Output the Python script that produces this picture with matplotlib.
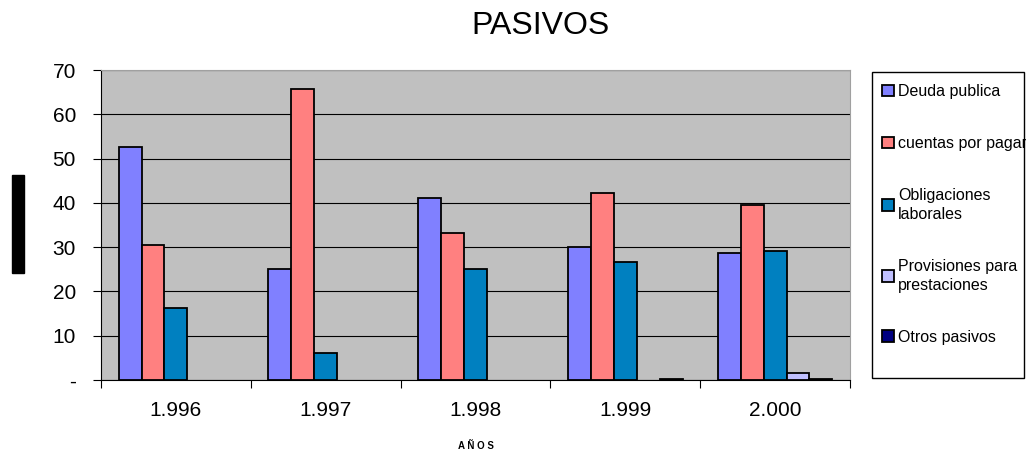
import numpy as np
import matplotlib.pyplot as plt
from matplotlib.patches import Rectangle

plt.rcParams['font.family'] = ['Liberation Sans', 'DejaVu Sans']

years = ['1.996', '1.997', '1.998', '1.999', '2.000']
series = ['Deuda publica', 'cuentas por pagar', 'Obligaciones\nlaborales',
          'Provisiones para\nprestaciones', 'Otros pasivos']
deuda = [52.7, 25.1, 41.0, 30.1, 28.7]
cuentas = [30.5, 65.7, 33.3, 42.3, 39.5]
obligaciones = [16.2, 6.2, 25.1, 26.6, 29.2]
provisiones = [0, 0, 0, 0, 1.6]
otros = [0, 0, 0, 0.3, 0.3]
colors = ['#8080FF', '#FF8080', '#0080C0', '#C0C0FF', '#000080']

fig = plt.figure(figsize=(10.26, 4.51), dpi=100)
ax = fig.add_axes([101/1026, 1-380/451, 749/1026, 310/451])
ax.set_facecolor('#C0C0C0')

x = np.arange(len(years))
w = 0.153
for i, (vals, lab) in enumerate(zip([deuda, cuentas, obligaciones, provisiones, otros], series)):
    v = np.array(vals, dtype=float)
    v[v == 0] = np.nan  # empty values are not drawn
    ax.bar(x + (i - 2) * w, v, w, color=colors[i], edgecolor='black', linewidth=1.3,
           label=lab, zorder=3)

ax.set_xlim(-0.5, 4.5)
ax.set_ylim(0, 70)
ax.set_yticks(range(0, 71, 10))
ax.set_yticklabels(['-'] + [str(v) for v in range(10, 71, 10)], fontsize=15)
ax.yaxis.grid(True, color='black', linewidth=0.8, zorder=0)
ax.set_xticks(np.arange(-0.5, 5, 1))
ax.set_xticklabels([])
ax.set_xticks(x, minor=True)
ax.set_xticklabels(years, minor=True, fontsize=15)
ax.tick_params(axis='x', which='minor', length=0, pad=15)
ax.tick_params(axis='x', which='major', direction='out', length=6)
ax.tick_params(axis='y', direction='out', length=6, pad=12)
ax.spines['top'].set_color('#A0A0A0')
ax.spines['right'].set_color('#A0A0A0')
ax.set_xlabel('A Ñ O S', fontsize=7, fontweight='bold', labelpad=15)

fig.text(0.527, 0.943, 'PASIVOS', ha='center', va='center', fontsize=23)
fig.patches.append(Rectangle((12/1026, 1-273/451), 12/1026, 98/451,
                             transform=fig.transFigure, color='black'))

# legend box
fig.patches.append(Rectangle((872/1026, 1-378/451), 152/1026, 306/451,
                             transform=fig.transFigure, facecolor='white',
                             edgecolor='black', linewidth=1, zorder=-1))
leg = ax.legend(loc='upper left', bbox_to_anchor=(879/1026, 1-81/451),
                bbox_transform=fig.transFigure, fontsize=11.5,
                frameon=False, labelspacing=2.3,
                handlelength=0.75, handleheight=0.75, handletextpad=0.25,
                borderaxespad=0, borderpad=0.2)
for t in leg.get_texts():
    t.set_linespacing(1.35)

fig.savefig('out.png', dpi=100)
